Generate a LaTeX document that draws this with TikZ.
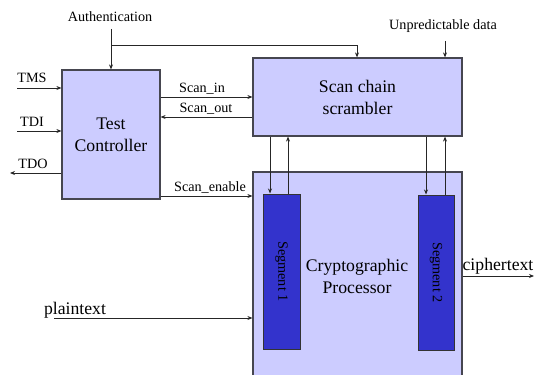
\documentclass[tikz,border=0pt]{standalone}
\usepackage{fontspec}
\setmainfont{Liberation Serif}
\newfontfamily\tnr{Liberation Serif}
\newfontfamily\tnrbig[Scale=1.2465]{Liberation Serif}
\usetikzlibrary{arrows.meta}
\definecolor{boxfill}{RGB}{204,204,255}
\definecolor{segfill}{RGB}{51,51,204}
\definecolor{edge}{RGB}{70,70,80}
\begin{document}
\begin{tikzpicture}[x=1pt,y=-1pt,
  blk/.style={draw=edge,line width=1.2pt,fill=boxfill,inner sep=0pt,
    align=center,font=\tnrbig\fontsize{14.2pt}{17pt}\selectfont},
  seg/.style={draw=black!80,line width=1pt,fill=segfill,inner sep=0pt},
  sig/.style={font=\tnr\fontsize{14.2pt}{16pt}\selectfont,inner sep=0pt,anchor=base},
  big/.style={font=\tnrbig\fontsize{14.2pt}{17pt}\selectfont,inner sep=0pt,anchor=base},
  arr/.style={line width=0.9pt,black!85,-{Stealth[length=5pt,width=4pt]}}]
\useasboundingbox (0,0) rectangle (534,374);
\clip (0,0) rectangle (534,374);

% main blocks
\node[blk,minimum width=98pt,minimum height=129pt] (tc) at (111,134.5)
  {Test\\[5pt]Controller};
\node[blk,minimum width=209pt,minimum height=78pt] (scs) at (357.5,97)
  {Scan chain\\[5pt]scrambler};
\node[blk,minimum width=209pt,minimum height=208pt] (cp) at (357.5,276) {};
\node[big,align=center,anchor=center] (cplabel) at (357,276)
  {Cryptographic\\[5pt]Processor};
\node[seg,minimum width=37pt,minimum height=155pt] (s1) at (281.5,271.5) {};
\node[seg,minimum width=36pt,minimum height=155pt] (s2) at (436,272.5) {};
\node[sig,anchor=center,rotate=-90] (s1t) at (s1.center) {Segment 1};
\node[sig,anchor=center,rotate=-90] (s2t) at (s2.center) {Segment 2};

% external inputs at the top
\node[sig] (auth) at (110,22) {Authentication};
\node[sig] (unp) at (443,30) {Unpredictable data};
\coordinate (authsrc) at (111,29);
\coordinate (authbr) at (111,45);
\draw[arr] (authsrc) -- (tc.north -| authsrc);
\draw[arr] (authbr) -| (scs.north -| 357,0);
\coordinate (unpsrc) at (445,41);
\draw[arr] (unpsrc) -- (scs.north -| unpsrc);

% JTAG pins
\node[sig] (tms) at (32,83) {TMS};
\node[sig] (tdi) at (32,127) {TDI};
\node[sig] (tdo) at (33,168) {TDO};
\coordinate (tmsin) at (17,88);
\coordinate (tdiin) at (17,131);
\coordinate (tdoout) at (10,173);
\draw[arr] (tmsin) -- (tc.west |- tmsin);
\draw[arr] (tdiin) -- (tc.west |- tdiin);
\draw[arr] (tc.west |- tdoout) -- (tdoout);

% controller to scrambler / processor
\node[sig] (scin) at (202,93) {Scan\_in};
\node[sig] (scout) at (206,113) {Scan\_out};
\node[sig] (scen) at (210,191) {Scan\_enable};
\draw[arr] (tc.east |- 0,97) -- (scs.west |- 0,97);
\draw[arr] (scs.west |- 0,117) -- (tc.east |- 0,117);
\draw[arr] (tc.east |- 0,196) -- (cp.west |- 0,196);

% scrambler <-> segments
\draw[arr] (scs.south -| 270,0) -- (s1.north -| 270,0);
\draw[arr] (s1.north -| 288,0) -- (scs.south -| 288,0);
\draw[arr] (scs.south -| 426,0) -- (s2.north -| 426,0);
\draw[arr] (s2.north -| 445,0) -- (scs.south -| 445,0);

% data path
\node[big] (pt) at (75,314) {plaintext};
\node[big] (ct) at (498,270) {ciphertext};
\coordinate (ptin) at (54,318);
\coordinate (ctout) at (534,276);
\draw[arr] (ptin) -- (cp.west |- ptin);
\draw[arr] (cp.east |- ctout) -- (ctout);
\end{tikzpicture}
\end{document}
